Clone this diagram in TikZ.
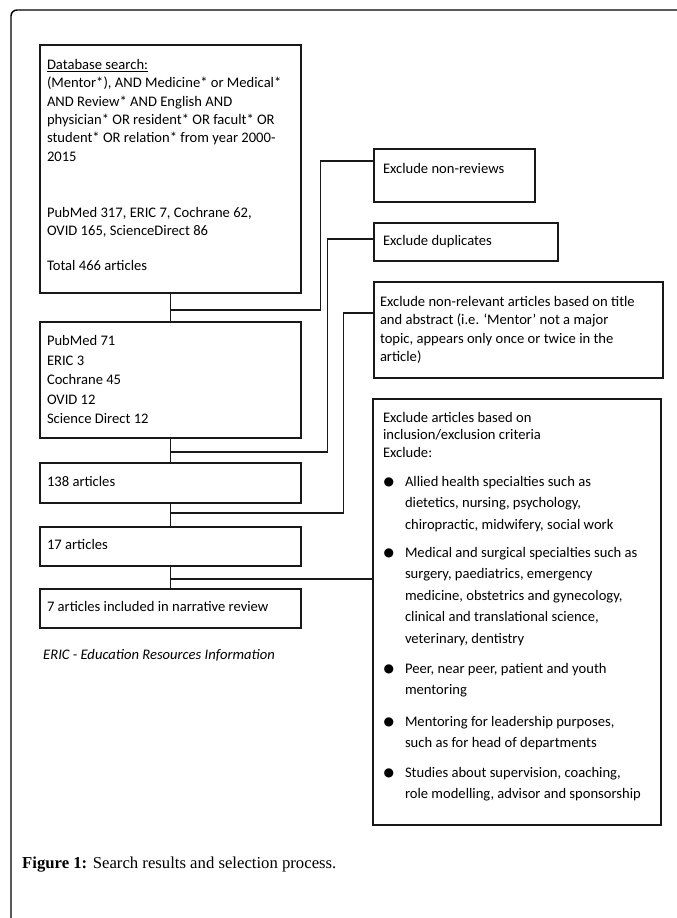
\documentclass[tikz,border=0pt]{standalone}
\usepackage{fontspec}
\setmainfont{Carlito}
\newfontfamily\capfont{Liberation Serif}
\newfontfamily\dejavu{DejaVu Sans}
\usetikzlibrary{calc}
\newcommand\mybox[4]{\begin{minipage}[t][#2][t]{#1}\raggedright\vspace*{#3}#4\end{minipage}}
\newcommand\bul{\noindent\llap{\makebox[22pt][l]{\hspace{0.5pt}\raisebox{0.5pt}{\dejavu\fontsize{12}{12}\selectfont ●}}}}
\newcommand\fs[1]{\fontsize{14.6}{#1}\selectfont}
\begin{document}
\begin{tikzpicture}[x=1pt,y=-1pt,
  box/.style={draw=black!90, line width=1.2pt, anchor=north west, inner ysep=0pt, outer sep=0pt, align=left},
  link/.style={draw=black!90, line width=1.2pt}]
\path[use as bounding box] (0,0) rectangle (677,918);
\fill[white] (0,0) rectangle (677,918);
% outer frame
\draw[line width=1.4pt, rounded corners=6pt] (11,930) -- (11,10) -- (690,10);

% left column
\node[box, inner xsep=7pt] (b1) at (40,45) {\mybox{247pt}{248pt}{11.4pt}{\fs{18.4}\strut\underline{Database search:}\\
(Mentor*), AND Medicine* or Medical*\\
AND Review* AND English AND\\
physician* OR resident* OR facult* OR\\
student* OR relation* from year 2000-\\
2015\\[37.6pt]
PubMed 317, ERIC 7, Cochrane 62,\\
OVID 165, ScienceDirect 86\\[16.6pt]
Total 466 articles}};

\node[box, inner xsep=7pt] (b2) at (40,322) {\mybox{247pt}{116pt}{9.9pt}{\fs{19.5}\strut PubMed 71\\
ERIC 3\\
Cochrane 45\\
OVID 12\\
Science Direct 12}};

\node[box, inner xsep=7pt] (b3) at (40,463) {\mybox{247pt}{40pt}{10.9pt}{\fs{18}\strut 138 articles}};
\node[box, inner xsep=7pt] (b4) at (40,527) {\mybox{247pt}{39pt}{9.9pt}{\fs{18}\strut 17 articles}};
\node[box, inner xsep=7pt] (b5) at (40,589) {\mybox{247pt}{39pt}{9.9pt}{\fs{18}\strut 7 articles included in narrative review}};

\node[anchor=base west, inner sep=0pt] (note) at (43,659.5) {\itshape\fontsize{14.6}{16}\selectfont ERIC - Education Resources Information};

% right column
\node[box, inner xsep=9pt] (r1) at (374,149) {\mybox{143pt}{53pt}{11.9pt}{\fs{18}\strut Exclude non-reviews}};
\node[box, inner xsep=9pt] (r2) at (374,223) {\mybox{166pt}{38pt}{9.9pt}{\fs{18}\strut Exclude duplicates}};
\node[box, inner xsep=6pt] (r3) at (374,282) {\mybox{277pt}{96pt}{11.5pt}{\fs{18.5}\strut Exclude non-relevant articles based on title\\
and abstract (i.e. ‘Mentor’ not a major\\
topic, appears only once or twice in the\\
article)}};

\node[box, inner xsep=10pt] (r4) at (373,399) {\mybox{268pt}{426pt}{10.75pt}{\fs{17.5}\strut Exclude articles based on\\
inclusion/exclusion criteria\\
Exclude:\par
\fs{21.5}\leftskip=22pt
\vspace{7.5pt}
\bul Allied health specialties such as\\
dietetics, nursing, psychology,\\
chiropractic, midwifery, social work\par
\vspace{6.5pt}
\bul Medical and surgical specialties such as\\
surgery, paediatrics, emergency\\
medicine, obstetrics and gynecology,\\
clinical and translational science,\\
veterinary, dentistry\par
\vspace{8.5pt}
\bul Peer, near peer, patient and youth\\
mentoring\par
\vspace{10pt}
\bul Mentoring for leadership purposes,\\
such as for head of departments\par
\vspace{8pt}
\bul Studies about supervision, coaching,\\
role modelling, advisor and sponsorship\par}};

% connectors
\coordinate (j1) at (b1.south |- 0,310);
\coordinate (j2) at (b2.south |- 0,452);
\coordinate (j3) at (b3.south |- 0,513);
\coordinate (j4) at (b4.south |- 0,579);
\draw[link] (b1.south) -- (b2.north);
\draw[link] (b2.south) -- (b3.north);
\draw[link] (b3.south) -- (b4.north);
\draw[link] (b4.south) -- (b5.north);
\draw[link] (j1) -- ++(150,0) |- ($(r1.north west)+(0,12)$);
\draw[link] (j2) -- ++(157,0) |- ($(r2.north west)+(0,16)$);
\draw[link] (j3) -- ++(173,0) |- ($(r3.north west)+(0,31)$);
\draw[link] (j4) -- (j4 -| r4.west);

% caption
\node[anchor=base west, inner sep=0pt] (cap) at (22,868) {\capfont\fontsize{16.7}{20}\selectfont\textbf{Figure 1:} Search results and selection process.};
\end{tikzpicture}
\end{document}
